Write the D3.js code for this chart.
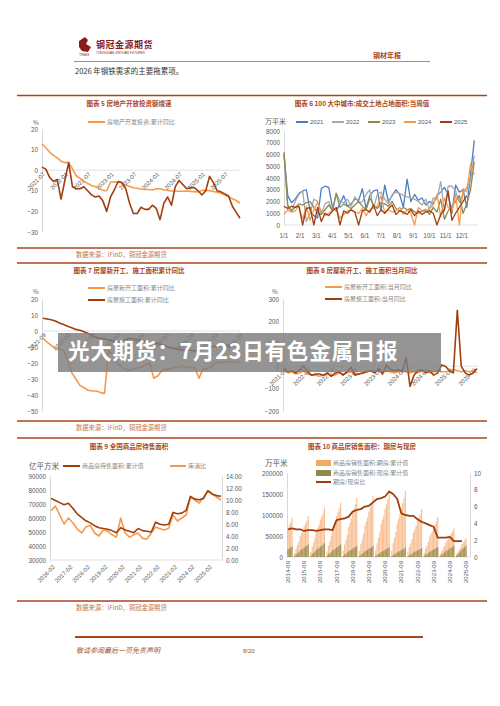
<!DOCTYPE html>
<html>
<head>
<meta charset="utf-8">
<script src="https://cdn.jsdelivr.net/npm/d3@7"></script>
<style>
  body { margin: 0; background: #fff; }
  svg { display: block; }
</style>
</head>
<body>
<div id="chart-container"></div>
<script>
// ---- data ----
const invCum = [12.7,10.9,8.8,7.2,6.0,4.4,3.7,3.7,0.7,-2.7,-4.0,-5.4,-6.4,-7.4,-8.0,-8.8,-9.8,-10.0,-5.7,-5.7,-5.8,-6.2,-7.2,-7.9,-8.5,-8.8,-9.1,-9.3,-9.4,-9.6,-9.0,-9.0,-9.5,-9.8,-10.1,-10.1,-10.2,-10.2,-10.1,-10.3,-10.4,-10.6,-9.8,-9.8,-9.9,-10.3,-10.7,-11.2,-12.0,-12.9,-13.9,-14.7,-15.9]
const invMonth = [1.5,0.5,-3.5,-5.5,-4.5,-14,-5,3.7,-8,-9,-9,-8,-10,-12,-13,-12.5,-15,-20,-13,-9.5,-5.5,-6,-9,-16,-21,-21,-18,-19,-19,-17,-18.5,-24,-16,-13,-17,-8,-5,-7,-9,-8.5,-8.5,-10,-12,-10,-3,-6,-10,-10.5,-11.5,-12.5,-17.5,-20.5,-23.3]
const invLabels = ['2021-07','2022-01','2022-07','2023-01','2023-07','2024-01','2024-07','2025-01','2025-07']

const landYears = ['2021','2022','2023','2024','2025']
const land2021 = [6000,2500,1900,2200,2700,2900,3000,1200,800,600,3100,3300,3200,1500,1200,1800,2500,1600,1800,2200,2100,3100,1400,2500,2900,3000,1200,3400,2000,2500,3000,2600,1500,3900,2000,2600,2100,2300,1700,2000,1800,2500,2800,3200,2600,1000,3400,2800,3000,1500,4300,7200]
const land2022 = [6100,1500,1200,2000,2600,2900,300,1000,2200,2000,900,1800,2000,1200,2700,2000,1900,2200,1600,2400,1900,2000,2600,3000,1400,2600,2800,2200,1800,2600,2800,2700,2500,2400,2300,2200,2000,1700,2200,1300,2300,2200,3700,1200,3300,3300,2900,1900,2700,3200,3800,5900]
const land2023 = [6200,1700,1200,1500,1800,1700,1900,2000,1500,1000,900,1300,1700,1200,2700,1500,1800,1600,1400,1700,2000,1600,1300,2300,1700,1400,1900,1800,1600,2000,1400,1200,1500,1300,1400,1100,1000,1200,1300,900,1500,1100,2200,500,1200,1600,2000,2500,1000,1800,3000,5400]
const land2024 = [900,1300,1100,1200,1600,500,1600,400,1300,1900,1200,800,1000,1200,1400,600,900,1200,1300,1100,1000,1400,800,1300,1500,1600,2500,1000,1300,1100,1200,1500,900,1300,1000,0,1500,1200,1100,1400,1700,2600,700,2300,1500,1200,2600,0,3100,2800,5200,4300]
const land2025 = [1600,1400,1600,1500,1600,0,1400,1500,0,1500,300,1000,800,1200,1500,0,1200,1000,1300,1100,0,1200,1300,1100,1700,800,1300,1000,1400,1700,900,1200,1100,900,1300,800,1200,900,1100,1200,1000,0,900,1300,2900,400,1000,1500,2000,2500]
const monthLabels = ['1/1','2/1','3/1','4/1','5/1','6/1','7/1','8/1','9/1','10/1','11/1','12/1']

const startsCum = [-4.5,-7,-9,-11,-11.5,-12,-18,-26,-30,-34,-35.5,-37,-37.5,-37.5,-38.5,-39,-12,-15,-20,-22,-24,-24.5,-24,-23,-22.5,-21,-20,-29.5,-28,-24.5,-24,-23.5,-23,-22.5,-22,-22.5,-23,-23,-29.5,-24,-23.5,-22.5,-20,-19.5,-19.5,-19,-19.5,-19,-20]
const underCum = [8,7.5,7,6.3,5,4,3,2,1,0.5,-0.5,-1.5,-3,-4,-4.5,-5,-5.5,-6,-6.5,-7,-5.5,-4.5,-5,-5.5,-6,-6.5,-7,-7.5,-8,-8.5,-9.5,-10.5,-11,-11.5,-12,-12,-12,-12.5,-12,-11,-10.5,-10,-9.5,-9.5,-9,-9,-9,-9.3,-9.5]
const cumLabels = ['2021-09','2022-03','2022-09','2023-03','2023-09','2024-03','2024-09','2025-03','2025-09']

const startsMonth = [-20,-30,-25,-35,-30,-20,-35,-40,-40,-45,-40,-35,-40,-40,-30,-35,-30,-25,-30,-35,-30,-25,-20,-25,-20,-30,-20,-25,-30,-25,-20,-25,-30,-25,-30,-20,-25,-30,-25,-20,-25,-25,-20,-15,-20,-25,-20,-25,-20,-30]
const underMonth = [-10,-25,-20,-30,-15,0,-25,-40,-35,-35,-40,-30,-45,-30,-25,-40,-25,-5,-40,-35,-30,-25,-20,-30,-10,-35,5,-15,-20,-15,-25,40,-90,-40,-20,-15,-30,-20,-40,-30,5,0,-20,-30,250,0,-30,-40,-30,-10]

const stockArea = [74000,72500,71000,69500,70500,67000,63000,60500,58000,56500,54500,53000,52500,52000,51000,49500,53000,51500,50500,49500,52500,51000,50500,50000,57000,55500,55000,55500,64000,63000,63500,65500,75500,73500,73000,74000,79500,77000,76000,75500]
const stockRatio = [8.2,9.0,7.5,6.0,7.0,6.2,5.2,4.5,5.5,5.8,4.5,4.0,5.0,4.8,4.2,3.8,7.0,4.5,3.8,4.2,4.5,3.6,3.5,4.5,5.5,5.2,5.0,5.3,7.5,6.5,7.0,7.5,10.5,10.0,9.5,10.5,11.5,11.0,10.5,10.0]
const stockLabels = ['2016-02','2017-02','2018-02','2019-02','2020-02','2021-02','2022-02','2023-02','2024-02','2025-02']

// sales: year-end cumulative totals (万平米), monthly cumulative share Feb..Dec
const salesYears = [2014,2015,2016,2017,2018,2019,2020,2021,2022,2023,2024,2025]
const presaleTotal = [93000,97000,118000,130000,141000,145000,153000,157000,114000,95000,68000,60000]
const readyTotal = [25000,30000,33000,30000,27000,26000,23000,22000,21000,24000,27000,36000]
const monthShare = [0.10,0.21,0.29,0.38,0.51,0.58,0.65,0.75,0.82,0.89,1.0]
const presaleRatio = [3.3,3.4,3.3,3.3,3.1,3.2,3.2,3.1,3.2,3.3,3.3,3.2,4.4,4.5,4.6,4.8,5.4,5.6,5.7,6.0,6.1,6.5,6.9,7.0,7.2,7.8,7.5,6.9,5.2,5.0,4.9,4.9,4.5,4.2,4.0,3.8,3.6,2.3,2.3,2.3,2.4,1.9,1.9,1.9]
const salesLabels = ['2014-09','2015-09','2016-09','2017-09','2018-09','2019-09','2020-09','2021-09','2022-09','2023-09','2024-09','2025-09']

// ---- style ----
const dark = '#A23E0E'
const light = '#F59A4C'
const brick = '#A9461B'
const axisGray = '#595959'
const gridGray = '#D9D9D9'
const cjk = '"Noto Sans CJK SC", sans-serif'
const num = '"Liberation Sans", Arial, sans-serif'

const svg = d3.select('#chart-container').append('svg')
  .attr('width', 500).attr('height', 706).attr('viewBox', '0 0 500 706')
  .style('background', '#fff')

// ---- page header ----
const head = svg.append('g')
head.append('path').attr('d', 'M79,41 l6,-4 l3,3 l-2,4 l5,3 l-3,5 l-6,-1 l-3,-4 z').attr('fill', '#8B1A1A')
head.append('text').attr('x', 79).attr('y', 56).attr('font-size', 3.5).attr('fill', '#8B1A1A').attr('font-family', num).text('TNMG')
head.append('text').attr('x', 96).attr('y', 48).attr('font-size', 9).attr('font-weight', 'bold')
  .attr('fill', '#8B1A1A').attr('font-family', cjk).attr('letter-spacing', 0.5).text('钢冠金源期货')
head.append('text').attr('x', 96).attr('y', 54).attr('font-size', 3.2).attr('fill', '#8B1A1A')
  .attr('font-family', num).text('TONGGUAN JINYUAN FUTURES')
head.append('text').attr('x', 373).attr('y', 58).attr('font-size', 7).attr('font-weight', 'bold')
  .attr('fill', brick).attr('font-family', cjk).text('钢材年报')
head.append('line').attr('x1', 74).attr('x2', 430).attr('y1', 61.5).attr('y2', 61.5).attr('stroke', '#777').attr('stroke-width', 0.8)
head.append('text').attr('x', 75).attr('y', 74).attr('font-size', 7.5).attr('fill', '#333').attr('font-family', cjk).text('2026 年钢铁需求的主要拖累项。')

// section rules, titles and source lines
const sections = [
  { top: 95.5, bottom: 248, src: 257 },
  { top: 263, bottom: 421, src: 430 },
  { top: 438, bottom: 601, src: 610 },
]
sections.forEach(s => {
  svg.append('line').attr('x1', 17).attr('x2', 487).attr('y1', s.top).attr('y2', s.top).attr('stroke', brick).attr('stroke-width', 1.3)
  svg.append('line').attr('x1', 17).attr('x2', 487).attr('y1', s.bottom).attr('y2', s.bottom).attr('stroke', brick).attr('stroke-width', 1.3)
  svg.append('text').attr('x', 76).attr('y', s.src).attr('font-size', 6.3).attr('fill', '#C0764A')
    .attr('font-family', cjk).text('数据来源：iFinD，铜冠金源期货')
})

function title(x, y, t) {
  svg.append('text').attr('x', x).attr('y', y).attr('text-anchor', 'middle').attr('font-size', 6.5)
    .attr('font-weight', 'bold').attr('fill', brick).attr('font-family', cjk).text(t)
}
title(129, 106, '图表  5  房地产开放投资额增速')
title(362, 106, '图表  6  100 大中城市:成交土地占地面积:当周值')
title(129, 273, '图表  7  房屋新开工、施工面积累计同比')
title(362, 273, '图表  8  房屋新开工、施工面积当月同比')
title(129, 449, '图表  9  全国商品房待售面积')
title(362, 449, '图表  10  商品房销售面积：期房与现房')

function legendLine(x, y, color, t, w = 17) {
  svg.append('line').attr('x1', x).attr('x2', x + w).attr('y1', y).attr('y2', y).attr('stroke', color).attr('stroke-width', 2)
  svg.append('text').attr('x', x + w + 2).attr('y', y).attr('dy', '0.35em').attr('font-size', 6).attr('fill', '#888')
    .attr('font-family', cjk).text(t)
}
function legendBox(x, y, color, t) {
  svg.append('rect').attr('x', x).attr('y', y - 3).attr('width', 15).attr('height', 6).attr('fill', color)
  svg.append('text').attr('x', x + 17).attr('y', y).attr('dy', '0.35em').attr('font-size', 6).attr('fill', '#888')
    .attr('font-family', cjk).text(t)
}
function yAxis(scale, x, ticks, fmt, side = 'left') {
  const ax = side === 'left' ? d3.axisLeft(scale) : d3.axisRight(scale)
  const g = svg.append('g').attr('transform', `translate(${x},0)`)
    .call(ax.tickValues(ticks).tickSize(0).tickPadding(4).tickFormat(fmt))
  g.select('.domain').attr('stroke', gridGray)
  g.selectAll('text').attr('fill', axisGray).attr('font-size', 6.3).attr('font-family', num)
  return g
}
function hLine(x1, x2, y) {
  svg.append('line').attr('x1', x1).attr('x2', x2).attr('y1', y).attr('y2', y).attr('stroke', gridGray).attr('stroke-width', 0.8)
}
function rotLabels(labels, xs, y, angle, size = 6) {
  svg.append('g').selectAll('text').data(labels).join('text')
    .attr('transform', (d, i) => `translate(${xs(i)},${y}) rotate(${angle})`)
    .attr('text-anchor', 'end').attr('dy', '0.35em').attr('font-size', size).attr('fill', axisGray)
    .attr('font-family', num).text(d => d)
}
function path(data, x, y, color, w = 1.6) {
  svg.append('path').datum(data)
    .attr('d', d3.line().x((d, i) => x(i)).y(d => y(d)))
    .attr('fill', 'none').attr('stroke', color).attr('stroke-width', w).attr('stroke-linejoin', 'round')
}
function unit(x, y, t, size = 6.3) {
  svg.append('text').attr('x', x).attr('y', y).attr('font-size', size).attr('fill', axisGray).attr('font-family', cjk).text(t)
}

// ---- chart 5 ----
{
  const x = d3.scaleLinear().domain([0, invCum.length - 1]).range([42, 240])
  const y = d3.scaleLinear().domain([-30, 20]).range([232, 129])
  yAxis(y, 42, d3.range(-30, 21, 10), d3.format('d'))
  hLine(42, 240, y(0))
  unit(33, 125, '%')
  rotLabels(invLabels, i => x(i * 6) + 2, y(0) + 3, -45)
  path(invCum, x, y, light)
  path(invMonth, x, y, dark)
  legendLine(88, 122, light, '房地产开发投资:累计同比')
}

// ---- chart 6 ----
{
  const x = d3.scaleLinear().domain([0, 52]).range([284, 478])
  const y = d3.scaleLinear().domain([0, 8000]).range([225, 131])
  yAxis(y, 284, d3.range(0, 8001, 1000), d3.format('d'))
  hLine(284, 478, y(0))
  unit(265, 124, '万平米', 7)
  const mx = d3.scaleLinear().domain([0, 12]).range([x(0), x(52)])
  svg.append('g').selectAll('text').data(monthLabels).join('text')
    .attr('x', (d, i) => mx(i)).attr('y', 238).attr('text-anchor', 'middle').attr('font-size', 6.3)
    .attr('fill', axisGray).attr('font-family', num).text(d => d)
  const colors = ['#4A7EC2', '#A8A8A8', '#8C8A4E', light, dark]
  ;[land2021, land2022, land2023, land2024, land2025].forEach((s, k) => path(s, x, y, colors[k], 1.3))
  landYears.forEach((t, k) => {
    const lx = 296 + k * 36
    svg.append('line').attr('x1', lx).attr('x2', lx + 12).attr('y1', 122).attr('y2', 122).attr('stroke', colors[k]).attr('stroke-width', 2)
    svg.append('text').attr('x', lx + 14).attr('y', 122).attr('dy', '0.35em').attr('font-size', 6).attr('fill', axisGray)
      .attr('font-family', num).text(t)
  })
}

// ---- chart 7 ----
{
  const x = d3.scaleLinear().domain([0, startsCum.length - 1]).range([43, 240])
  const y = d3.scaleLinear().domain([-50, 20]).range([411, 299])
  yAxis(y, 42, d3.range(-50, 21, 10), d3.format('d'))
  hLine(42, 240, y(0))
  unit(33, 294, '%')
  rotLabels(cumLabels, i => x(i * 6) + 2, y(0) + 3, -45)
  path(underCum, x, y, dark)
  path(startsCum, x, y, light)
  legendLine(88, 288, light, '房屋新开工面积:累计同比')
  legendLine(88, 300, dark, '房屋施工面积:累计同比')
}

// ---- chart 8 ----
{
  const x = d3.scaleLinear().domain([0, underMonth.length - 1]).range([284, 477])
  const y = d3.scaleLinear().domain([-200, 300]).range([411, 299])
  yAxis(y, 283, d3.range(-200, 301, 100), d3.format('d'))
  hLine(283, 478, y(0))
  unit(272, 294, '%')
  rotLabels(cumLabels, i => x(i * 6) + 2, y(0) + 3, -45)
  path(startsMonth, x, y, light)
  path(underMonth, x, y, dark)
  legendLine(325, 287, light, '房屋新开工面积:当月同比')
  legendLine(325, 299, dark, '房屋施工面积:当月同比')
}

// ---- chart 9 ----
{
  const x = d3.scaleLinear().domain([0, 39]).range([51, 221])
  const y = d3.scaleLinear().domain([30000, 90000]).range([560, 476])
  const y2 = d3.scaleLinear().domain([0, 14]).range([560, 476])
  yAxis(y, 50, d3.range(30000, 90001, 10000), d3.format('d'))
  yAxis(y2, 222, d3.range(0, 14.01, 2), d3.format('.2f'), 'right')
  hLine(50, 222, 560)
  unit(29, 469, '亿平方米', 7.5)
  rotLabels(stockLabels, i => x(i * 4) + 3, 566, -45)
  path(stockRatio, x, y2, light)
  path(stockArea, x, y, dark)
  legendLine(63, 466, dark, '商品房待售面积:累计值')
  legendLine(170, 466, light, '库消比', 16)
}

// ---- chart 10 ----
{
  const t0 = 2014 + 8 / 12
  const x = d3.scaleLinear().domain([t0, 2025 + 8 / 12]).range([288, 466])
  const y = d3.scaleLinear().domain([0, 200000]).range([557, 473])
  const y2 = d3.scaleLinear().domain([0, 10]).range([557, 473])
  yAxis(y, 287, d3.range(0, 200001, 50000), d3.format('d'))
  yAxis(y2, 470, d3.range(0, 10.1, 2), d3.format('d'), 'right')
  hLine(287, 470, 557)
  unit(265, 466, '万平米', 7.5)
  svg.append('g').selectAll('text').data(salesLabels).join('text')
    .attr('transform', (d, i) => `translate(${x(t0 + i)},561) rotate(-90)`)
    .attr('text-anchor', 'end').attr('dy', '0.35em').attr('font-size', 6).attr('fill', axisGray)
    .attr('font-family', num).text(d => d)
  const bars = []
  salesYears.forEach((yr, k) => {
    monthShare.forEach((s, m) => {
      const t = yr + (m + 1) / 12
      if (t < t0 - 0.01 || t > 2025 + 8 / 12 + 0.01) return
      bars.push({ t, pre: presaleTotal[k] * s, ready: readyTotal[k] * s })
    })
  })
  const g = svg.append('g')
  g.selectAll('.pre').data(bars).join('rect').attr('class', 'pre')
    .attr('x', d => x(d.t) - 0.6).attr('width', 1.2)
    .attr('y', d => y(d.pre)).attr('height', d => y(0) - y(d.pre)).attr('fill', '#F7B27A').attr('opacity', 0.8)
  g.selectAll('.ready').data(bars).join('rect').attr('class', 'ready')
    .attr('x', d => x(d.t) - 0.6).attr('width', 1.2)
    .attr('y', d => y(d.ready)).attr('height', d => y(0) - y(d.ready)).attr('fill', '#8E8A4C').attr('opacity', 0.8)
  const xr = i => x(t0 + i / 4)
  path(presaleRatio, xr, y2, dark, 1.8)
  legendBox(316, 463, '#F5A968', '商品房销售面积:期房:累计值')
  legendBox(316, 473, '#8E8A4C', '商品房销售面积:现房:累计值')
  legendLine(316, 482, dark, '期房/现房比', 15)
}

// ---- footer ----
svg.append('line').attr('x1', 75).attr('x2', 423).attr('y1', 637).attr('y2', 637).attr('stroke', brick).attr('stroke-width', 2)
svg.append('text').attr('x', 76).attr('y', 653).attr('font-size', 7).attr('font-style', 'italic').attr('fill', '#A0522D')
  .attr('font-family', cjk).text('敬请参阅最后一页免责声明')
svg.append('text').attr('x', 243).attr('y', 653).attr('font-size', 6).attr('fill', '#A0522D').attr('font-family', num).text('8/20')

// ---- overlay banner ----
svg.append('rect').attr('x', 58).attr('y', 333).attr('width', 383).attr('height', 39).attr('fill', '#7d7d7d').attr('opacity', 0.82)
svg.append('text').attr('x', 68).attr('y', 351).attr('dy', '0.35em').attr('font-size', 21.5).attr('font-weight', 'bold')
  .attr('letter-spacing', 0.8).attr('fill', '#fff').attr('font-family', cjk).text('光大期货：7月23日有色金属日报')
</script>
</body>
</html>
